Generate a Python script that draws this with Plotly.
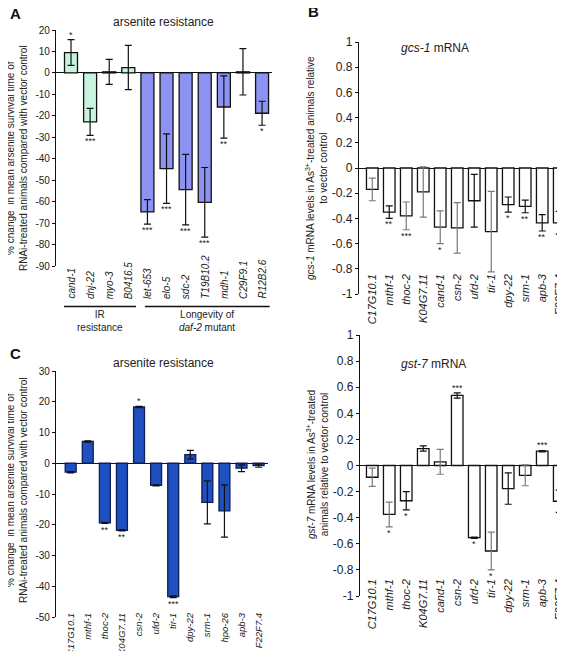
import plotly.graph_objects as go

FONT = "Liberation Sans, Arial, Helvetica, sans-serif"

# ---------------- data ----------------
genes_A = ["cand-1", "dnj-22", "myo-3", "B0416.5", "let-653", "elo-5", "sdc-2",
           "T19B10.2", "mdh-1", "C29F9.1", "R12B2.6"]
vals_A = [9.5, -22.8, 0.5, 2.5, -64.8, -44.6, -54.4, -60.3, -15.9, 0.5, -18.8]
err_A = [6.0, 6.3, 5.8, 10.3, 5.7, 16.2, 16.4, 16.2, 14.5, 10.8, 5.6]
stars_A = ["*", "***", "", "", "***", "***", "***", "***", "**", "", "*"]
group_A = ["IR", "IR", "IR", "IR", "L", "L", "L", "L", "L", "L", "L"]

genes_B = ["C17G10.1", "mthf-1", "thoc-2", "K04G7.11", "cand-1", "csn-2", "ufd-2",
           "tir-1", "dpy-22", "srm-1", "apb-3", "F22F7.4"]
vals_B = [-0.17, -0.35, -0.38, -0.19, -0.47, -0.475, -0.26, -0.505, -0.29, -0.305, -0.435, -0.435]
err_B = [0.09, 0.05, 0.11, 0.2, 0.13, 0.2, 0.21, 0.32, 0.06, 0.05, 0.065, 0.09]
stars_B = ["", "**", "***", "", "*", "", "", "", "*", "**", "**", "*"]
gray_B = [True, False, True, True, True, True, False, True, False, False, False, False]

genes_C = ["C17G10.1", "mthf-1", "thoc-2", "K04G7.11", "csn-2", "ufd-2", "tir-1",
           "dpy-22", "srm-1", "hpo-26", "apb-3", "F22F7.4"]
vals_C = [-2.9, 7.1, -19.4, -21.8, 18.3, -7.2, -43.4, 2.8, -12.7, -15.5, -1.6, -0.8]
err_C = [0.2, 0.2, 0.2, 0.2, 0.2, 0.2, 0.3, 1.4, 7.0, 8.5, 1.1, 0.5]
stars_C = ["", "", "**", "**", "*", "", "***", "", "", "", "", ""]

genes_D = ["C17G10.1", "mthf-1", "thoc-2", "K04G7.11", "cand-1", "csn-2", "ufd-2",
           "tir-1", "dpy-22", "srm-1", "apb-3", "F22F7.4"]
vals_D = [-0.09, -0.375, -0.27, 0.13, 0.028, 0.537, -0.553, -0.655, -0.177, -0.075, 0.11, -0.274]
err_D = [0.07, 0.095, 0.07, 0.02, 0.095, 0.02, 0.005, 0.145, 0.12, 0.08, 0.005, 0.085]
stars_D = ["", "*", "*", "", "", "***", "*", "*", "", "", "***", "*"]
gray_D = [True, True, False, False, True, False, False, True, False, True, False, False]

ticks_A = [20, 10, 0, -10, -20, -30, -40, -50, -60, -70, -80, -90]
ticks_C = [30, 20, 10, 0, -10, -20, -30, -40, -50]
ticks_BD = [1, 0.8, 0.6, 0.4, 0.2, 0, -0.2, -0.4, -0.6, -0.8, -1]

MINT = "#C8F4DF"
PERI = "#8C93F2"
DBLUE = "#1F50C2"

# the page body has an 8 px margin, so the figure is drawn 8 px in from the window corner
OFF = 8
W, H = 565 - OFF, 651 - OFF


def px(x):
    return (x - OFF) / W


def py(y):
    return 1 - (y - OFF) / H


fig = go.Figure()


def add_panel(n, genes, vals, errs, colors, line_color, width, gray=None):
    xa = "x" if n == 1 else f"x{n}"
    ya = "y" if n == 1 else f"y{n}"
    fig.add_trace(go.Bar(x=genes, y=vals, marker=dict(color=colors, line=dict(color=line_color, width=1.3)),
                         width=width, xaxis=xa, yaxis=ya, showlegend=False, hoverinfo="skip"))
    if gray is None:
        gray = [False] * len(genes)
    for flag, col in [(False, "#111111"), (True, "#7a7a7a")]:
        xs = [g for g, f in zip(genes, gray) if f == flag]
        ys = [v for v, f in zip(vals, gray) if f == flag]
        es = [e for e, f in zip(errs, gray) if f == flag]
        if not xs:
            continue
        fig.add_trace(go.Scatter(x=xs, y=ys, mode="markers",
                                 marker=dict(size=1, color="rgba(0,0,0,0)"),
                                 error_y=dict(type="data", array=es, color=col, thickness=1.2, width=3.5),
                                 xaxis=xa, yaxis=ya, showlegend=False, hoverinfo="skip"))


add_panel(1, genes_A, vals_A, err_A, [MINT if g == "IR" else PERI for g in group_A], "#111111", 0.68)
add_panel(2, genes_B, vals_B, err_B, ["white"] * len(genes_B), "#111111", 0.68, gray_B)
add_panel(3, genes_C, vals_C, err_C, [DBLUE] * len(genes_C), "#0d1f55", 0.64)
add_panel(4, genes_D, vals_D, err_D, ["white"] * len(genes_D), "#111111", 0.68, gray_D)

annotations = []


def ann(**kw):
    kw.setdefault("showarrow", False)
    kw.setdefault("xanchor", "center")
    kw.setdefault("yanchor", "middle")
    annotations.append(kw)


def star_anns(n, genes, vals, errs, stars):
    xr = "x" if n == 1 else f"x{n}"
    yr = "y" if n == 1 else f"y{n}"
    for g, v, e, s in zip(genes, vals, errs, stars):
        if not s:
            continue
        if v >= 0:
            ann(x=g, y=v + e, xref=xr, yref=yr, text=s, yanchor="bottom", yshift=-2,
                font=dict(size=9, family=FONT, color="#222"))
        else:
            ann(x=g, y=v - e, xref=xr, yref=yr, text=s, yanchor="top", yshift=1,
                font=dict(size=9, family=FONT, color="#222"))


star_anns(1, genes_A, vals_A, err_A, stars_A)
star_anns(2, genes_B, vals_B, err_B, stars_B)
star_anns(3, genes_C, vals_C, err_C, stars_C)
star_anns(4, genes_D, vals_D, err_D, stars_D)

# panel A gene labels (bottom aligned, rotated)
for g in genes_A:
    ann(x=g, y=py(301), xref="x", yref="paper", text=f"<i>{g}</i>", textangle=-90,
        yanchor="bottom", font=dict(size=10, family=FONT, color="#222"))

# group labels panel A
ann(x=1.5, y=py(307), xref="x", yref="paper", text="IR<br>resistance", yanchor="top",
    font=dict(size=10, family=FONT, color="#222"))
ann(x=7.1, y=py(307), xref="x", yref="paper", text="Longevity of<br><i>daf-2</i> mutant",
    yanchor="top", font=dict(size=10, family=FONT, color="#222"))

shapes = [
    dict(type="line", xref="x", yref="paper", x0=-0.37, x1=3.4, y0=py(306.5), y1=py(306.5),
         line=dict(color="#111", width=1.3)),
    dict(type="line", xref="x", yref="paper", x0=3.87, x1=10.4, y0=py(306.5), y1=py(306.5),
         line=dict(color="#111", width=1.3)),
]

# titles
ann(x=px(163), y=py(22), xref="paper", yref="paper", text="arsenite resistance",
    font=dict(size=12, family=FONT, color="#222"))
ann(x=px(163), y=py(363), xref="paper", yref="paper", text="arsenite resistance",
    font=dict(size=12, family=FONT, color="#222"))
ann(x=px(435), y=py(48), xref="paper", yref="paper", text="<i>gcs-1</i> mRNA",
    font=dict(size=12, family=FONT, color="#222"))
ann(x=px(433), y=py(364), xref="paper", yref="paper", text="<i>gst-7</i> mRNA",
    font=dict(size=12, family=FONT, color="#222"))
# panel letters
ann(x=0, y=py(3), xref="paper", yref="paper", text="<b>A</b>", xanchor="left", yanchor="top",
    font=dict(size=15, family=FONT, color="#111"))
ann(x=px(306), y=py(1), xref="paper", yref="paper", text="<b>B</b>", xanchor="left", yanchor="top",
    font=dict(size=15, family=FONT, color="#111"))
ann(x=0, y=py(343), xref="paper", yref="paper", text="<b>C</b>", xanchor="left", yanchor="top",
    font=dict(size=15, family=FONT, color="#111"))
# y-axis titles
YT_A = "% change  in mean arsenite survival time of<br>RNAi-treated animals compared with vector control"
ann(x=px(17), y=py(158), xref="paper", yref="paper", textangle=-90, text=YT_A,
    font=dict(size=10, family=FONT, color="#222"))
ann(x=px(17), y=py(490), xref="paper", yref="paper", textangle=-90, text=YT_A,
    font=dict(size=10, family=FONT, color="#222"))
ann(x=px(316), y=py(168), xref="paper", yref="paper", textangle=-90,
    text="<i>gcs-1</i> mRNA levels in As<sup>3+</sup>-treated animals relative<br>to vector control",
    font=dict(size=10, family=FONT, color="#222"))
ann(x=px(317), y=py(465), xref="paper", yref="paper", textangle=-90,
    text="<i>gst-7</i> mRNA levels in As<sup>3+</sup>-treated<br>animals relative to vector control",
    font=dict(size=10, family=FONT, color="#222"))


def yax(rng, dom, anchor, tickvals, size):
    return dict(range=rng, domain=dom, anchor=anchor, showgrid=False, zeroline=True, automargin=False,
                zerolinecolor="#111", zerolinewidth=1.3, showline=True, linecolor="#111", linewidth=1.3,
                ticks="outside", ticklen=3, tickcolor="#111", tickvals=tickvals,
                ticktext=[("%g" % t) for t in tickvals], tickfont=dict(size=size, family=FONT, color="#222"))


def xax(genes, rng, dom, anchor, pos=None, showlabels=True, size=11):
    d = dict(type="category", categoryorder="array", categoryarray=genes, range=rng, domain=dom,
             showgrid=False, zeroline=False, showline=False, ticks="", showticklabels=showlabels,
             automargin=False, tickangle=-90, tickfont=dict(size=size, family=FONT, color="#222"),
             tickprefix="<i>", ticksuffix="</i>")
    if pos is not None:
        d["anchor"] = "free"
        d["position"] = pos
    else:
        d["anchor"] = anchor
    return d


fig.update_layout(
    template="none",
    width=W, height=H, margin=dict(l=0, r=0, t=0, b=0, pad=0),
    plot_bgcolor="white", paper_bgcolor="white", bargap=0.3,
    font=dict(family=FONT, color="#222"),
    xaxis=xax(genes_A, [-0.785, 10.52], [px(56), px(272)], "y", showlabels=False),
    yaxis=yax([-90, 20], [py(266), py(30)], "x", ticks_A, 10),
    xaxis2=xax(genes_B, [-0.78, 11.34], [px(359), 1.0], "y2", pos=py(271), size=11),
    yaxis2=yax([-1, 1], [py(294), py(42)], "x2", ticks_BD, 12),
    xaxis3=xax(genes_C, [-0.86, 11.55], [px(56), px(268)], "y3", pos=py(610), size=9.5),
    yaxis3=yax([-50, 30], [py(617), py(371)], "x3", ticks_C, 10),
    xaxis4=xax(genes_D, [-0.72, 11.34], [px(360), 1.0], "y4", pos=py(576), size=11),
    yaxis4=yax([-1, 1], [py(596), py(335)], "x4", ticks_BD, 12),
    annotations=annotations, shapes=shapes,
)

fig.write_html("out.html")
